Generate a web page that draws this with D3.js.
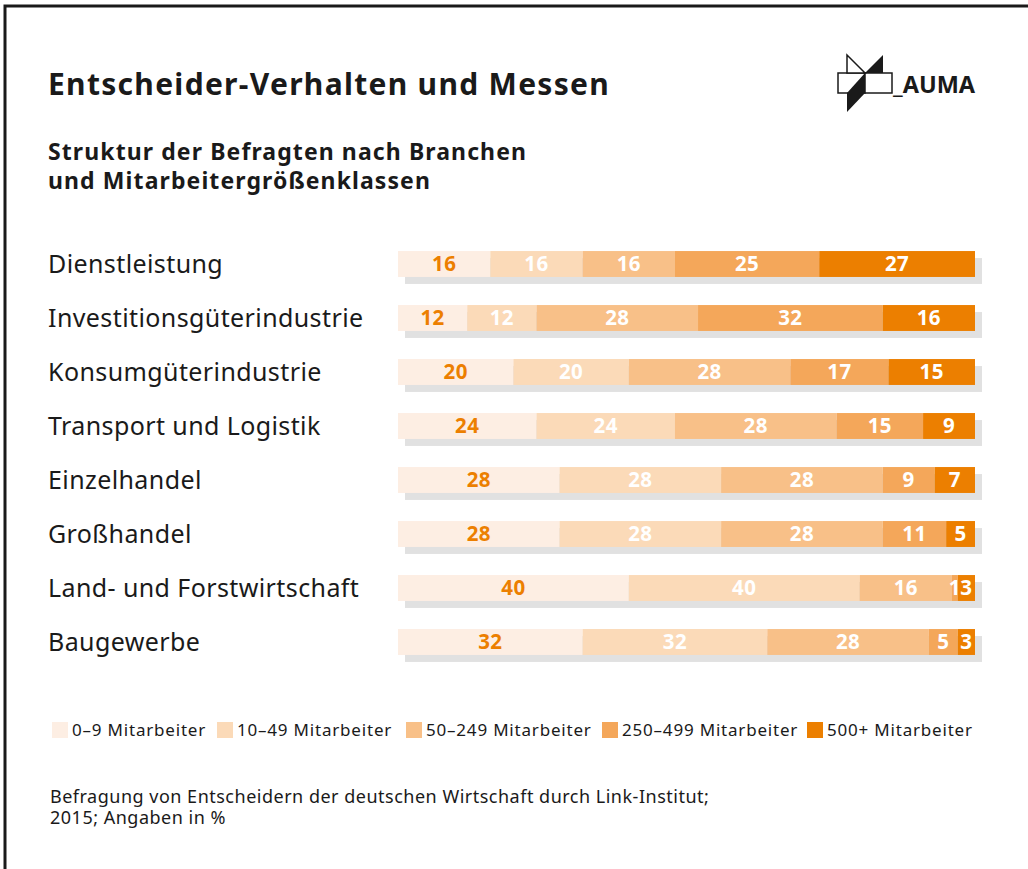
<!DOCTYPE html>
<html>
<head>
<meta charset="utf-8">
<script src="https://cdn.jsdelivr.net/npm/d3@7"></script>
<style>
  body { margin: 0; background: #fff; }
  svg { display: block; font-family: "Noto Sans", sans-serif; }
</style>
</head>
<body>
<script>
// data
let branches = ["Dienstleistung", "Investitionsgüterindustrie", "Konsumgüterindustrie",
  "Transport und Logistik", "Einzelhandel", "Großhandel", "Land- und Forstwirtschaft", "Baugewerbe"];
let classes = ["0–9 Mitarbeiter", "10–49 Mitarbeiter", "50–249 Mitarbeiter", "250–499 Mitarbeiter", "500+ Mitarbeiter"];
let v0_9 = [16, 12, 20, 24, 28, 28, 40, 32];
let v10_49 = [16, 12, 20, 24, 28, 28, 40, 32];
let v50_249 = [16, 28, 28, 28, 28, 28, 16, 28];
let v250_499 = [25, 32, 17, 15, 9, 11, 1, 5];
let v500 = [27, 16, 15, 9, 7, 5, 3, 3];
let colors = ["#fdeee3", "#fbdab8", "#f8c088", "#f4a75a", "#ec7f00"];

let width = 1028, height = 869;

let svg = d3.select("body").append("svg")
  .attr("width", width)
  .attr("height", height);

// frame
svg.append("rect")
  .attr("x", 5).attr("y", 6)
  .attr("width", 1040).attr("height", 880)
  .attr("fill", "none")
  .attr("stroke", "#1a1a1a")
  .attr("stroke-width", 3);

// titles
svg.append("text")
  .attr("x", 48).attr("y", 95)
  .attr("font-size", 30).attr("font-weight", "bold").attr("fill", "#1a1a1a")
  .attr("letter-spacing", 1.3)
  .text("Entscheider-Verhalten und Messen");

svg.append("text")
  .attr("x", 48).attr("y", 160)
  .attr("font-size", 23).attr("font-weight", "bold").attr("fill", "#1a1a1a")
  .attr("letter-spacing", 1.1)
  .text("Struktur der Befragten nach Branchen");
svg.append("text")
  .attr("x", 48).attr("y", 189)
  .attr("font-size", 23).attr("font-weight", "bold").attr("fill", "#1a1a1a")
  .attr("letter-spacing", 1.1)
  .text("und Mitarbeitergrößenklassen");

// logo
let logo = svg.append("g").attr("transform", "translate(838,55)");
logo.append("rect").attr("x", 0).attr("y", 18).attr("width", 27).attr("height", 20)
  .attr("fill", "#fff").attr("stroke", "#1a1a1a").attr("stroke-width", 1.5);
logo.append("rect").attr("x", 27).attr("y", 18).attr("width", 27).attr("height", 20)
  .attr("fill", "#fff").attr("stroke", "#1a1a1a").attr("stroke-width", 1.5);
logo.append("path").attr("d", "M9,0 L9,18 L27,18 Z")
  .attr("fill", "#fff").attr("stroke", "#1a1a1a").attr("stroke-width", 1.5);
logo.append("path").attr("d", "M45,0 L45,18 L27,18 Z").attr("fill", "#1a1a1a");
logo.append("path").attr("d", "M27,18 L27,38 L9,57 L9,38 Z").attr("fill", "#1a1a1a");
svg.append("text")
  .attr("x", 893).attr("y", 93)
  .attr("font-size", 23.5).attr("font-weight", "bold").attr("fill", "#1a1a1a")
  .text("_AUMA");

// stacked data
let rows = branches.map((b, i) => {
  let vals = [v0_9[i], v10_49[i], v50_249[i], v250_499[i], v500[i]];
  let acc = 0;
  return {
    branch: b,
    segs: vals.map((v, k) => {
      let s = { k: k, v: v, x0: acc, x1: acc + v };
      acc += v;
      return s;
    })
  };
});

let x = d3.scaleLinear().domain([0, 100]).range([398, 975]);
let y = d3.scaleBand().domain(branches).range([237, 669]).paddingInner(0.52).paddingOuter(0.26);

let rowG = svg.selectAll("g.row").data(rows).enter().append("g")
  .attr("class", "row")
  .attr("transform", d => `translate(0,${y(d.branch)})`);

rowG.append("text")
  .attr("x", 48)
  .attr("y", y.bandwidth() / 2)
  .attr("dy", ".35em")
  .attr("font-size", 25)
  .attr("letter-spacing", 0.4)
  .attr("fill", "#1a1a1a")
  .text(d => d.branch);

// shadow
rowG.append("rect")
  .attr("x", x(0) + 7)
  .attr("y", 7)
  .attr("width", x(100) - x(0))
  .attr("height", y.bandwidth())
  .attr("fill", "#e1e1e1");

let segG = rowG.selectAll("g.seg").data(d => d.segs).enter().append("g").attr("class", "seg");

segG.append("rect")
  .attr("x", d => x(d.x0))
  .attr("y", 0)
  .attr("width", d => x(d.x1) - x(d.x0))
  .attr("height", y.bandwidth())
  .attr("fill", d => colors[d.k]);

segG.append("text")
  .attr("x", d => (x(d.x0) + x(d.x1)) / 2)
  .attr("y", y.bandwidth() / 2)
  .attr("dy", ".36em")
  .attr("text-anchor", "middle")
  .attr("font-size", 20.5)
  .attr("letter-spacing", 0.4)
  .attr("font-weight", "bold")
  .attr("fill", d => d.k === 0 ? "#ec7f00" : "#fff")
  .text(d => d.v);

// legend
let legendX = [52, 217, 406, 602, 807];
let legend = svg.selectAll("g.legend").data(classes).enter().append("g")
  .attr("class", "legend")
  .attr("transform", (d, i) => `translate(${legendX[i]},722)`);
legend.append("rect")
  .attr("width", 16).attr("height", 16)
  .attr("fill", (d, i) => colors[i]);
legend.append("text")
  .attr("x", 20).attr("y", 8).attr("dy", ".36em")
  .attr("font-size", 17).attr("letter-spacing", 0.8).attr("fill", "#1a1a1a")
  .text(d => d);

// footnote
svg.append("text")
  .attr("x", 50).attr("y", 803)
  .attr("font-size", 18).attr("letter-spacing", 0.5).attr("fill", "#1a1a1a")
  .text("Befragung von Entscheidern der deutschen Wirtschaft durch Link-Institut;");
svg.append("text")
  .attr("x", 50).attr("y", 824)
  .attr("font-size", 18).attr("letter-spacing", 0.5).attr("fill", "#1a1a1a")
  .text("2015; Angaben in %");
</script>
</body>
</html>
